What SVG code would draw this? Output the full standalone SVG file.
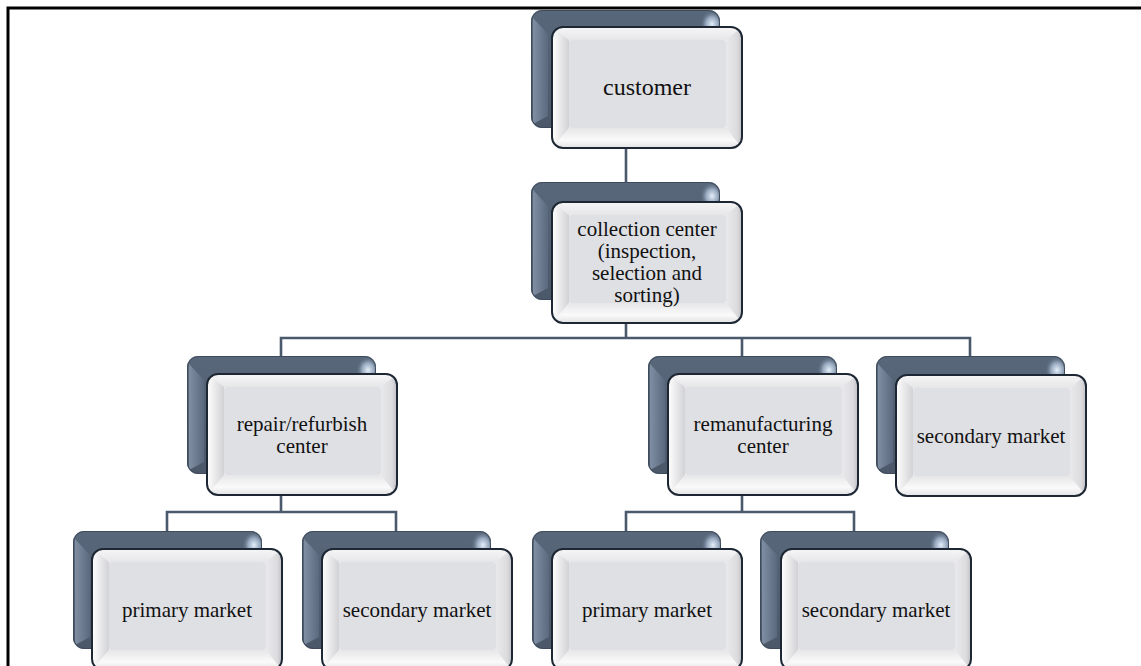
<svg xmlns="http://www.w3.org/2000/svg" xmlns:xlink="http://www.w3.org/1999/xlink" width="1141" height="666" viewBox="0 0 1141 666">
<style>
.conn{fill:none;stroke:#4b596c;stroke-width:2.6}
text{font-family:'Liberation Serif',Tinos,'DejaVu Serif',serif;font-size:21px;fill:#111;text-anchor:middle}
</style>
<defs>
<linearGradient id="gBack" x1="0" y1="0" x2="0" y2="1">
<stop offset="0" stop-color="#586779"/><stop offset="1" stop-color="#4a586a"/>
</linearGradient>
<linearGradient id="gBackL" x1="0" y1="0" x2="1" y2="0">
<stop offset="0" stop-color="#7f8ea3"/><stop offset="1" stop-color="#5a697e"/>
</linearGradient>
<radialGradient id="gHi" cx="0.5" cy="0.5" r="0.5">
<stop offset="0" stop-color="#e6f0fb"/><stop offset="0.5" stop-color="#a9bbd2" stop-opacity="0.8"/><stop offset="1" stop-color="#5a6a7e" stop-opacity="0"/>
</radialGradient>
<linearGradient id="gFL" x1="0" y1="0" x2="1" y2="0">
<stop offset="0" stop-color="#ffffff"/><stop offset="1" stop-color="#d2d2d5"/>
</linearGradient>
<linearGradient id="gFR" x1="0" y1="0" x2="1" y2="0">
<stop offset="0" stop-color="#e9e9eb"/><stop offset="0.7" stop-color="#dcdcdf"/><stop offset="1" stop-color="#bfc0c4"/>
</linearGradient>
<linearGradient id="gFB" x1="0" y1="0" x2="0" y2="1">
<stop offset="0" stop-color="#e6e6e8"/><stop offset="0.6" stop-color="#fafafa"/><stop offset="1" stop-color="#e2e2e4"/>
</linearGradient>
<linearGradient id="gFT" x1="0" y1="0" x2="0" y2="1">
<stop offset="0" stop-color="#f6f6f7"/><stop offset="1" stop-color="#e6e6e8"/>
</linearGradient>
<clipPath id="cFront"><rect x="0" y="0" width="190" height="121" rx="11"/></clipPath>
<clipPath id="cBack"><rect x="0" y="0" width="189" height="118" rx="11"/></clipPath>
<g id="back">
<rect x="0" y="0" width="189" height="118" rx="11" fill="url(#gBack)"/>
<g clip-path="url(#cBack)">
<polygon points="2,8 17,24 17,106 2,114" fill="url(#gBackL)"/>
<ellipse cx="181" cy="14" rx="12" ry="14" fill="url(#gHi)"/>
</g>
<rect x="0.5" y="0.5" width="188" height="117" rx="11" fill="none" stroke="#3f4b5b" stroke-width="1"/>
</g>
<g id="front">
<g clip-path="url(#cFront)">
<rect x="0" y="0" width="190" height="121" fill="#f0f0f2"/>
<polygon points="0,0 190,0 174,13 17,13" fill="url(#gFT)"/>
<polygon points="0,0 17,13 17,101 0,121" fill="url(#gFL)"/>
<polygon points="0,121 17,101 174,101 190,121" fill="url(#gFB)"/>
<polygon points="190,0 174,13 174,101 190,121" fill="url(#gFR)"/>
<rect x="17" y="13" width="157" height="88" rx="3" fill="#dfe0e4"/>
</g>
<rect x="0" y="0" width="190" height="121" rx="11" fill="none" stroke="#1d2734" stroke-width="2"/>
</g>
</defs>
<rect x="0" y="0" width="1141" height="666" fill="#ffffff"/>
<path d="M8,666 V8 H1141" fill="none" stroke="#000" stroke-width="3"/>
<g id="connectors">
<path class="conn" d="M626,128 V182"/>
<path class="conn" d="M626,298 V338"/>
<path class="conn" d="M281,356 V338 H970 V356"/>
<path class="conn" d="M742,338 V356"/>
<path class="conn" d="M281,476 V512"/>
<path class="conn" d="M167,531 V512 H396 V531"/>
<path class="conn" d="M742,476 V512"/>
<path class="conn" d="M626,531 V512 H854 V531"/>
</g>
<g id="customer">
<use xlink:href="#back" x="531" y="10"/>
<use xlink:href="#front" x="552" y="27"/>
<text x="647" y="95" style="font-size:24px">customer</text>
</g>
<g id="collection">
<use xlink:href="#back" x="531" y="182"/>
<use xlink:href="#front" x="552" y="202"/>
<text x="647" y="236">collection center</text>
<text x="647" y="258">(inspection,</text>
<text x="647" y="280">selection and</text>
<text x="647" y="302">sorting)</text>
</g>
<g id="repair">
<use xlink:href="#back" x="187" y="356"/>
<use xlink:href="#front" x="207" y="374"/>
<text x="302" y="431">repair/refurbish</text>
<text x="302" y="453">center</text>
</g>
<g id="reman">
<use xlink:href="#back" x="648" y="356"/>
<use xlink:href="#front" x="668" y="374"/>
<text x="763" y="431">remanufacturing</text>
<text x="763" y="453">center</text>
</g>
<g id="secondary-top">
<use xlink:href="#back" x="876" y="356"/>
<use xlink:href="#front" x="896" y="375"/>
<text x="991" y="443">secondary market</text>
</g>
<g id="primary-left">
<use xlink:href="#back" x="73" y="531"/>
<use xlink:href="#front" x="92" y="549"/>
<text x="187" y="617">primary market</text>
</g>
<g id="secondary-left">
<use xlink:href="#back" x="302" y="531"/>
<use xlink:href="#front" x="322" y="549"/>
<text x="417" y="617">secondary market</text>
</g>
<g id="primary-right">
<use xlink:href="#back" x="532" y="531"/>
<use xlink:href="#front" x="552" y="549"/>
<text x="647" y="617">primary market</text>
</g>
<g id="secondary-right">
<use xlink:href="#back" x="760" y="531"/>
<use xlink:href="#front" x="781" y="549"/>
<text x="876" y="617">secondary market</text>
</g>
</svg>
